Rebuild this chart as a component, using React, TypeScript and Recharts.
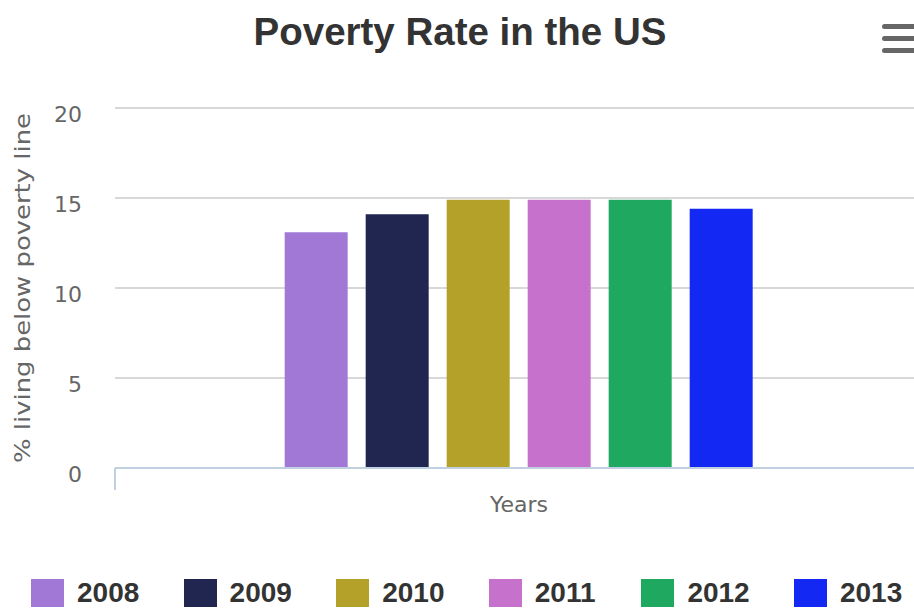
import { BarChart, Bar, XAxis, YAxis, CartesianGrid, Legend } from 'recharts';

const categories = ['Poverty rate'];
const years = ['2008', '2009', '2010', '2011', '2012', '2013'];
const rates = [13.1, 14.1, 14.9, 14.9, 14.9, 14.4];
const colors = ['#A178D6', '#202650', '#B4A12A', '#C672CC', '#1EA860', '#1428F4'];
const yTicks = [0, 5, 10, 15, 20];

const data = categories.map((name) => {
  const row: Record<string, string | number> = { name };
  years.forEach((y, i) => {
    row[y] = rates[i];
  });
  return row;
});

const axisFont = '"DejaVu Sans", sans-serif';

// highcharts puts the x tick on the category edge, not the middle
const EdgeTick = (props: any) => {
  const { x, y, payload } = props;
  const half = payload && typeof payload.offset === 'number' ? payload.offset : 0;
  return <line x1={x - half} x2={x - half} y1={y} y2={y + 22} stroke="#C0D0E0" strokeWidth={2} />;
};

const YTitle = (props: any) => {
  const { viewBox } = props;
  const cx = viewBox.x + 30;
  const cy = viewBox.y + viewBox.height / 2;
  return (
    <text
      x={cx}
      y={cy}
      transform={`rotate(-90 ${cx} ${cy})`}
      textAnchor="middle"
      fill="#666"
      fontFamily={axisFont}
      fontSize={22}
      textLength={350}
      lengthAdjust="spacingAndGlyphs"
    >
      % living below poverty line
    </text>
  );
};

const XTitle = (props: any) => {
  const { viewBox } = props;
  return (
    <text
      x={viewBox.x + viewBox.width / 2}
      y={viewBox.y + 44}
      textAnchor="middle"
      fill="#666"
      fontFamily={axisFont}
      fontSize={22}
    >
      Years
    </text>
  );
};

const renderLegend = (props: any) => (
  <div style={{ display: 'flex', height: 40, paddingLeft: 31, alignItems: 'flex-end', boxSizing: 'border-box', paddingBottom: 1 }}>
    {(props.payload || []).map((entry: any) => (
      <div key={entry.value} style={{ width: 152.6, flexShrink: 0, display: 'flex', alignItems: 'center', height: 28 }}>
        <span style={{ display: 'inline-block', width: 33, height: 28, background: entry.color, marginRight: 13 }} />
        <span style={{ fontFamily: '"Liberation Sans", Arial, sans-serif', fontWeight: 'bold', fontSize: 28, color: '#333', lineHeight: '28px' }}>
          {entry.value}
        </span>
      </div>
    ))}
  </div>
);

export default function App() {
  return (
    <div style={{ position: 'absolute', left: 0, top: 0, width: 914, height: 608, overflow: 'hidden', background: '#fff' }}>
      <svg width={914} height={70} style={{ position: 'absolute', left: 0, top: 0 }}>
        <text x={460} y={45} textAnchor="middle" fill="#333" fontFamily='"Liberation Sans", Arial, sans-serif' fontWeight="bold" fontSize={38.5}>
          Poverty Rate in the US
        </text>
        <rect x={882} y={24} width={40} height={5} rx={2.5} fill="#666" />
        <rect x={882} y={36} width={40} height={5} rx={2.5} fill="#666" />
        <rect x={882} y={48} width={40} height={5} rx={2.5} fill="#666" />
      </svg>
      <BarChart
        width={940}
        height={608}
        data={data}
        margin={{ top: 108, right: 17, left: 0, bottom: 0 }}
        barCategoryGap="21%"
        barGap={18}
      >
        <CartesianGrid vertical={false} stroke="#D8D8D8" strokeWidth={2} />
        <YAxis
          width={115}
          domain={[0, 20]}
          ticks={yTicks}
          axisLine={false}
          tickLine={false}
          tickSize={0}
          tickMargin={33}
          tick={{ fill: '#666', fontSize: 22, fontFamily: axisFont, dy: 6 }}
          label={<YTitle />}
        />
        <XAxis
          dataKey="name"
          height={100}
          axisLine={{ stroke: '#C0D0E0', strokeWidth: 2 }}
          tickLine={false}
          tickSize={0}
          tickMargin={0}
          tick={<EdgeTick />}
          label={<XTitle />}
        />
        <Legend
          verticalAlign="bottom"
          align="left"
          content={renderLegend}
          wrapperStyle={{ left: 0, width: 914, bottom: 0 }}
        />
        {years.map((y, i) => (
          <Bar key={y} dataKey={y} name={y} fill={colors[i]} isAnimationActive={false} />
        ))}
      </BarChart>
    </div>
  );
}
